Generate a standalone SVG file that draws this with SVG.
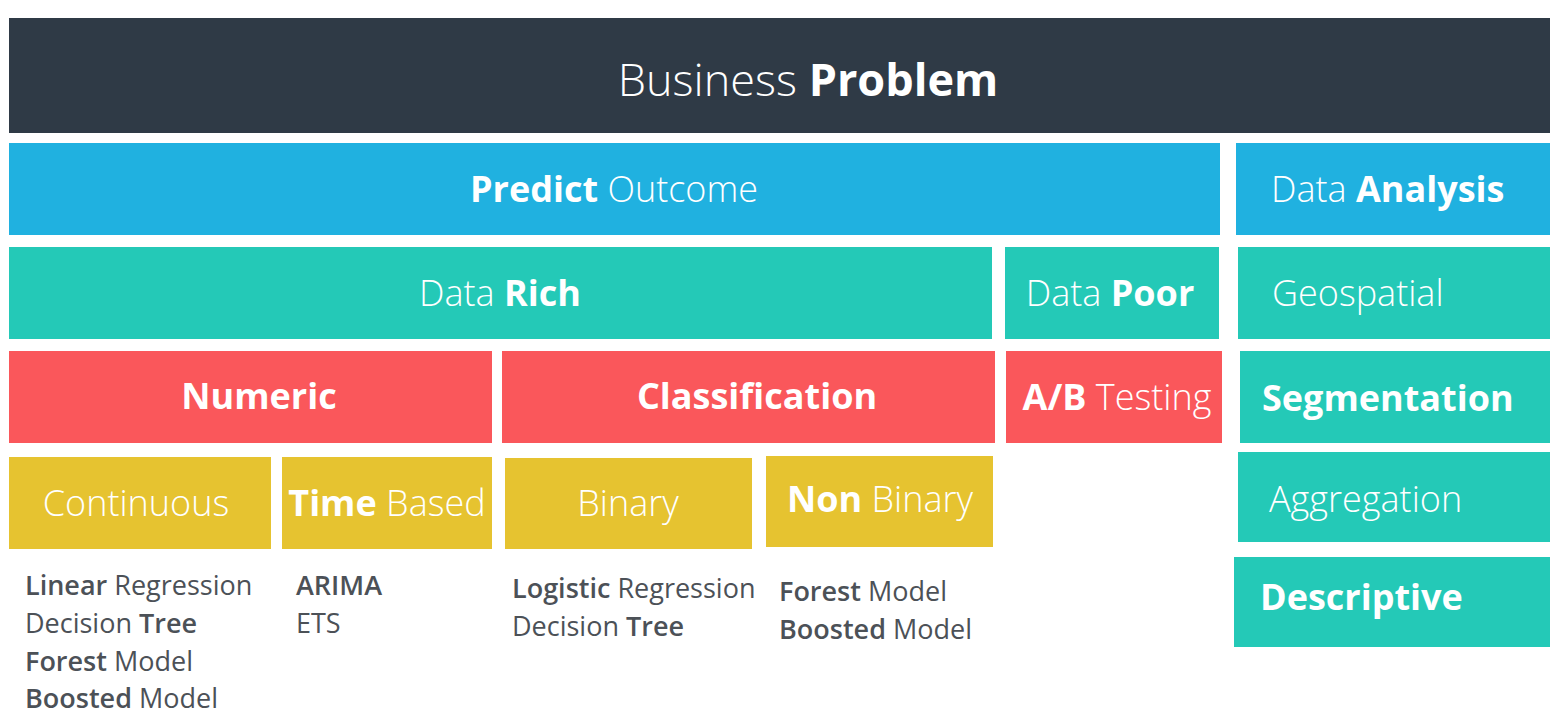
<svg xmlns="http://www.w3.org/2000/svg" width="1568" height="722" viewBox="0 0 1568 722">
  <style>
    text { font-family: "Open Sans", "Liberation Sans", sans-serif; }
    .lbl { fill: #ffffff; font-size: 36px; font-weight: 300; }
    .lbl-c { text-anchor: middle; }
    .top { font-size: 45px; }
    .item { fill: #4c5157; font-size: 27px; font-weight: 400; }
    .b { font-weight: 700; }
    .item .b, .item.b { font-weight: 600; }
    .dark { fill: #2f3a46; }
    .blue { fill: #20b1e0; }
    .teal { fill: #24c9b7; }
    .red { fill: #fa575b; }
    .gold { fill: #e6c330; }
  </style>
  <rect width="1568" height="722" fill="#ffffff"/>

  <g id="business-problem">
    <rect class="dark" x="9" y="18" width="1541" height="115"/>
    <text class="lbl lbl-c top" x="808" y="96">Business <tspan class="b">Problem</tspan></text>
  </g>

  <g id="predict-outcome">
    <rect class="blue" x="9" y="143" width="1211" height="92"/>
    <text class="lbl lbl-c" x="614" y="202"><tspan class="b">Predict</tspan> Outcome</text>
  </g>
  <g id="data-analysis">
    <rect class="blue" x="1236" y="143" width="314" height="92"/>
    <text class="lbl" x="1271" y="202">Data <tspan class="b">Analysis</tspan></text>
  </g>

  <g id="data-rich">
    <rect class="teal" x="9" y="247" width="983" height="92"/>
    <text class="lbl lbl-c" x="500" y="306">Data <tspan class="b">Rich</tspan></text>
  </g>
  <g id="data-poor">
    <rect class="teal" x="1005" y="247" width="214" height="92"/>
    <text class="lbl lbl-c" x="1110" y="306">Data <tspan class="b">Poor</tspan></text>
  </g>
  <g id="geospatial">
    <rect class="teal" x="1238" y="247" width="312" height="92"/>
    <text class="lbl" x="1272" y="306">Geospatial</text>
  </g>

  <g id="numeric">
    <rect class="red" x="9" y="351" width="483" height="92"/>
    <text class="lbl lbl-c b" x="259" y="409">Numeric</text>
  </g>
  <g id="classification">
    <rect class="red" x="502" y="351" width="493" height="92"/>
    <text class="lbl lbl-c b" x="757" y="409">Classification</text>
  </g>
  <g id="ab-testing">
    <rect class="red" x="1006" y="351" width="216" height="92"/>
    <text class="lbl lbl-c" x="1117" y="410"><tspan class="b">A/B</tspan> Testing</text>
  </g>
  <g id="segmentation">
    <rect class="teal" x="1240" y="351" width="310" height="92"/>
    <text class="lbl b" x="1262" y="411">Segmentation</text>
  </g>

  <g id="continuous">
    <rect class="gold" x="9" y="457" width="262" height="92"/>
    <text class="lbl lbl-c" x="136" y="516">Continuous</text>
  </g>
  <g id="time-based">
    <rect class="gold" x="282" y="457" width="210" height="92"/>
    <text class="lbl lbl-c" x="387" y="516"><tspan class="b">Time</tspan> Based</text>
  </g>
  <g id="binary">
    <rect class="gold" x="505" y="458" width="247" height="91"/>
    <text class="lbl lbl-c" x="628" y="516">Binary</text>
  </g>
  <g id="non-binary">
    <rect class="gold" x="766" y="456" width="227" height="91"/>
    <text class="lbl lbl-c" x="880" y="512"><tspan class="b">Non</tspan> Binary</text>
  </g>
  <g id="aggregation">
    <rect class="teal" x="1238" y="452" width="312" height="90"/>
    <text class="lbl" x="1269" y="512">Aggregation</text>
  </g>
  <g id="descriptive">
    <rect class="teal" x="1234" y="557" width="316" height="90"/>
    <text class="lbl b" x="1260" y="610">Descriptive</text>
  </g>

  <!-- model lists under each leaf -->
  <g id="continuous-models">
    <text class="item" x="25" y="595"><tspan class="b">Linear</tspan> Regression</text>
    <text class="item" x="25" y="633">Decision <tspan class="b">Tree</tspan></text>
    <text class="item" x="25" y="671"><tspan class="b">Forest</tspan> Model</text>
    <text class="item" x="25" y="708"><tspan class="b">Boosted</tspan> Model</text>
  </g>
  <g id="time-models">
    <text class="item b" x="296" y="595">ARIMA</text>
    <text class="item" x="296" y="633">ETS</text>
  </g>
  <g id="binary-models">
    <text class="item" x="512" y="598"><tspan class="b">Logistic</tspan> Regression</text>
    <text class="item" x="512" y="636">Decision <tspan class="b">Tree</tspan></text>
  </g>
  <g id="nonbinary-models">
    <text class="item" x="779" y="601"><tspan class="b">Forest</tspan> Model</text>
    <text class="item" x="779" y="639"><tspan class="b">Boosted</tspan> Model</text>
  </g>

  <g id="connectors"/>
</svg>
